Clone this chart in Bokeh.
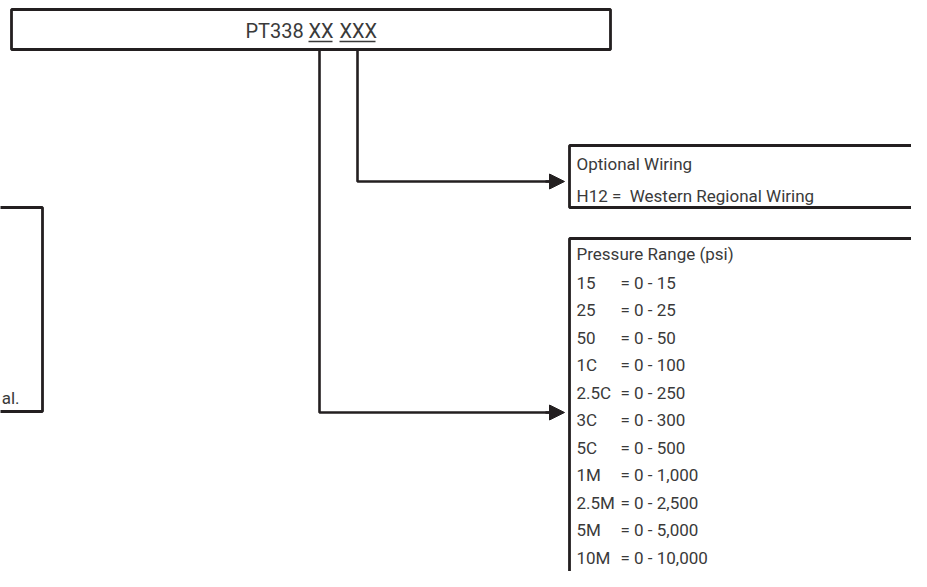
from bokeh.plotting import figure
from bokeh.models import Range1d, Arrow, NormalHead, ColumnDataSource
from bokeh.core.properties import value
from bokeh.embed import file_html
from bokeh.resources import INLINE

# ---- content ----
title_parts = ["PT338", "XX", "XXX"]
wiring_title = "Optional Wiring"
wiring_codes = ["H12 =\u00a0 Western Regional Wiring"]
range_title = "Pressure Range (psi)"
range_codes = ["15", "25", "50", "1C", "2.5C", "3C", "5C", "1M", "2.5M", "5M", "10M"]
range_values = ["0 - 15", "0 - 25", "0 - 50", "0 - 100", "0 - 250", "0 - 300",
                "0 - 500", "0 - 1,000", "0 - 2,500", "0 - 5,000", "0 - 10,000"]
left_note = "al."

# ---- layout (screen-like coordinates) ----
INK = "#231f20"
TXT = "#3a3a3a"
FONT = value("Roboto")

p = figure(width=911, height=571, output_backend="svg", toolbar_location=None,
           x_range=Range1d(0, 911), y_range=Range1d(571, 0),
           min_border=0, outline_line_color=None)
p.axis.visible = False
p.grid.visible = False
p.background_fill_color = "white"

# boxes
boxes = ColumnDataSource(dict(
    left=[11, 569, 569, -60],
    right=[610, 990, 990, 42],
    top=[9, 145, 238, 207],
    bottom=[49, 207, 700, 411],
))
p.quad(left="left", right="right", top="top", bottom="bottom", source=boxes,
       fill_color=None, line_color=INK, line_width=2.8)

# connector lines
p.line(x=[357, 357, 552], y=[49, 181, 181], line_color=INK, line_width=2.6)
p.line(x=[319, 319, 552], y=[49, 412, 412], line_color=INK, line_width=2.6)
for yy in (181, 412):
    p.add_layout(Arrow(end=NormalHead(size=15, fill_color=INK, line_color=INK, line_width=1),
                       x_start=545, y_start=yy, x_end=564, y_end=yy,
                       line_color=INK, line_width=2.6))

# header text
hx = [245, 308, 339]
p.text(x=hx, y=[30, 30, 30], text=title_parts, text_font=FONT, text_font_size="20px",
       text_color=TXT, text_baseline="middle", text_align="left")
p.segment(x0=[308, 339], y0=[41, 41], x1=[332, 375], y1=[41, 41],
          line_color=TXT, line_width=1.3)

# optional wiring
p.text(x=[576, 576], y=[163, 195], text=[wiring_title] + wiring_codes, text_font=FONT,
       text_font_size="17px", text_color=TXT, text_baseline="middle")

# pressure ranges
step = 27.5
ys = [282 + i * step for i in range(len(range_codes))]
p.text(x=[576], y=[253], text=[range_title], text_font=FONT, text_font_size="17px",
       text_color=TXT, text_baseline="middle")
p.text(x=[576] * len(range_codes), y=ys, text=range_codes, text_font=FONT,
       text_font_size="17px", text_color=TXT, text_baseline="middle")
p.text(x=[620] * len(range_codes), y=ys, text=["= " + v for v in range_values],
       text_font=FONT, text_font_size="17px", text_color=TXT, text_baseline="middle")

# left (cut off) note
p.text(x=[19], y=[397], text=[left_note], text_font=FONT, text_font_size="17px",
       text_color=TXT, text_baseline="middle", text_align="right")

open("out.html", "w").write(file_html(p, INLINE))
